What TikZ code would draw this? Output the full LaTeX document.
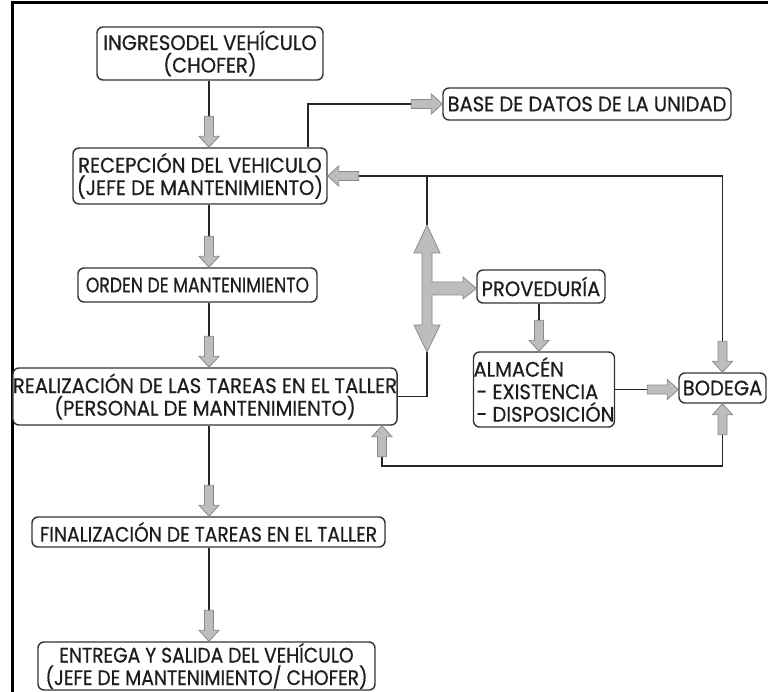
\documentclass[tikz,border=0pt]{standalone}
\usepackage{fontspec}
\setmainfont{Poppins}[FakeStretch=0.93, FakeBold=0.6]
\newfontfamily\narrowfont{Poppins}[FakeStretch=0.82, FakeBold=0.6]
\newfontfamily\midfont{Poppins}[FakeStretch=0.89, FakeBold=0.6]
\usetikzlibrary{calc}

\definecolor{boxline}{HTML}{333333}
\definecolor{txt}{HTML}{1E1E1E}
\definecolor{linec}{HTML}{262626}
\definecolor{arrfill}{HTML}{BDBDBD}
\definecolor{arrline}{HTML}{8A8A8A}

\newcommand\boxfont{\fontsize{21}{22.5}\selectfont}

\tikzset{
  x=1pt, y=-1pt,
  box/.style={draw=boxline, line width=1.4pt, rounded corners=6pt, fill=white,
    inner sep=0pt, align=center, font=\boxfont, text=txt},
  conn/.style={draw=linec, line width=1.6pt},
  fat/.style={draw=arrline, fill=arrfill, line width=0.8pt, line join=miter},
}

% block arrow, tip at #1, pointing in direction #2 (degrees)
\newcommand\fatarrow[2]{%
  \begin{scope}[shift={(#1)}, rotate=#2]
    \filldraw[fat] (0,0) -- (-11,-10) -- (-11,-4.5) -- (-31,-4.5)
      -- (-31,4.5) -- (-11,4.5) -- (-11,10) -- cycle;
  \end{scope}}

\begin{document}
\begin{tikzpicture}
\useasboundingbox (0,0) rectangle (768,692);
\fill[white] (0,0) rectangle (768,692);

% frame
\draw[line width=3pt, draw=black] (12,692) -- (12,3) -- (768,3);

% boxes
\node[box, minimum width=226pt, minimum height=53pt] (ing) at (210,53.5)
  {INGRESODEL VEHÍCULO\\(CHOFER)};
\node[box, minimum width=254pt, minimum height=56pt] (rec) at (200,176)
  {RECEPCIÓN DEL VEHICULO\\(JEFE DE MANTENIMIENTO)};
\node[box, minimum width=288pt, minimum height=32pt] (bd) at (587,104)
  {BASE DE DATOS DE LA UNIDAD};
\node[box, minimum width=239pt, minimum height=34pt, font=\boxfont\narrowfont]
  (ord) at (197.5,285) {ORDEN DE MANTENIMIENTO};
\node[box, minimum width=384pt, minimum height=57pt] (rea) at (205,396.5)
  {REALIZACIÓN DE LAS TAREAS EN EL TALLER\\(PERSONAL DE MANTENIMIENTO)};
\node[box, minimum width=128pt, minimum height=33pt] (prov) at (541,286.5)
  {PROVEDURÍA};
\node[box, minimum width=140pt, minimum height=75pt, align=left] (alm) at (544,389.5)
  {ALMACÉN\\\hspace*{3pt}- EXISTENCIA\\\hspace*{3pt}- DISPOSICIÓN};
\node[box, minimum width=87pt, minimum height=30pt] (bod) at (722.5,388)
  {BODEGA};
\node[box, minimum width=353pt, minimum height=30pt, font=\boxfont\midfont]
  (fin) at (208.5,532) {FINALIZACIÓN DE TAREAS EN EL TALLER};
\node[box, minimum width=337pt, minimum height=48pt, font=\boxfont\midfont]
  (ent) at (206.5,666)
  {ENTREGA Y SALIDA DEL VEHÍCULO\\(JEFE DE MANTENIMIENTO/ CHOFER)};

% helper coordinates
\coordinate (col) at (209,0);
\coordinate (dbx) at (308,0);
\coordinate (dx)  at (427,0);
\coordinate (pc)  at (539,0);
\coordinate (lx)  at (382,0);
\coordinate (ly)  at (0,466);
\coordinate (dtop) at (427,225);
\coordinate (dbot) at (427,352);

% main column
\draw[conn] (col |- ing.south) -- (col |- rec.north);
\draw[conn] (col |- rec.south) -- (col |- ord.north);
\draw[conn] (col |- ord.south) -- (col |- rea.north);
\draw[conn] (col |- rea.south) -- (col |- fin.north);
\draw[conn] (col |- fin.south) -- (col |- ent.north);
\fatarrow{col |- rec.north}{-90}
\fatarrow{col |- ord.north}{-90}
\fatarrow{col |- rea.north}{-90}
\fatarrow{col |- fin.north}{-90}
\fatarrow{col |- ent.north}{-90}

% to the unit database
\draw[conn] (dbx |- rec.north) |- (bd.west);
\fatarrow{bd.west}{0}

% return from BODEGA to reception
\draw[conn] (bod.north) |- (rec.east);
\fatarrow{rec.east}{180}
\fatarrow{bod.north}{-90}
\draw[conn] (dx |- rec.east) -- (dtop);

% workshop link to the purchasing branch
\draw[conn] (dbot) |- (rea.east);
\filldraw[fat] (dtop) -- (440,253) -- (432,253) -- (432,282) -- (463,282)
  -- (463,277) -- (prov.west |- 0,288.5) -- (463,299) -- (463,295) -- (432,295)
  -- (432,325) -- (440,325) -- (dbot) -- (414,325) -- (422,325) -- (422,253)
  -- (414,253) -- cycle;

% provisioning to storage to BODEGA
\draw[conn] (pc |- prov.south) -- (pc |- alm.north);
\fatarrow{pc |- alm.north}{-90}
\draw[conn] (alm.east) -- (alm.east -| bod.west);
\fatarrow{alm.east -| bod.west}{0}

% BODEGA back to the workshop
\draw[conn] (bod.south) -- (bod.south |- ly) -- (lx |- ly) -- (lx |- rea.south);
\fatarrow{bod.south}{90}
\fatarrow{lx |- rea.south}{90}
\end{tikzpicture}
\end{document}
